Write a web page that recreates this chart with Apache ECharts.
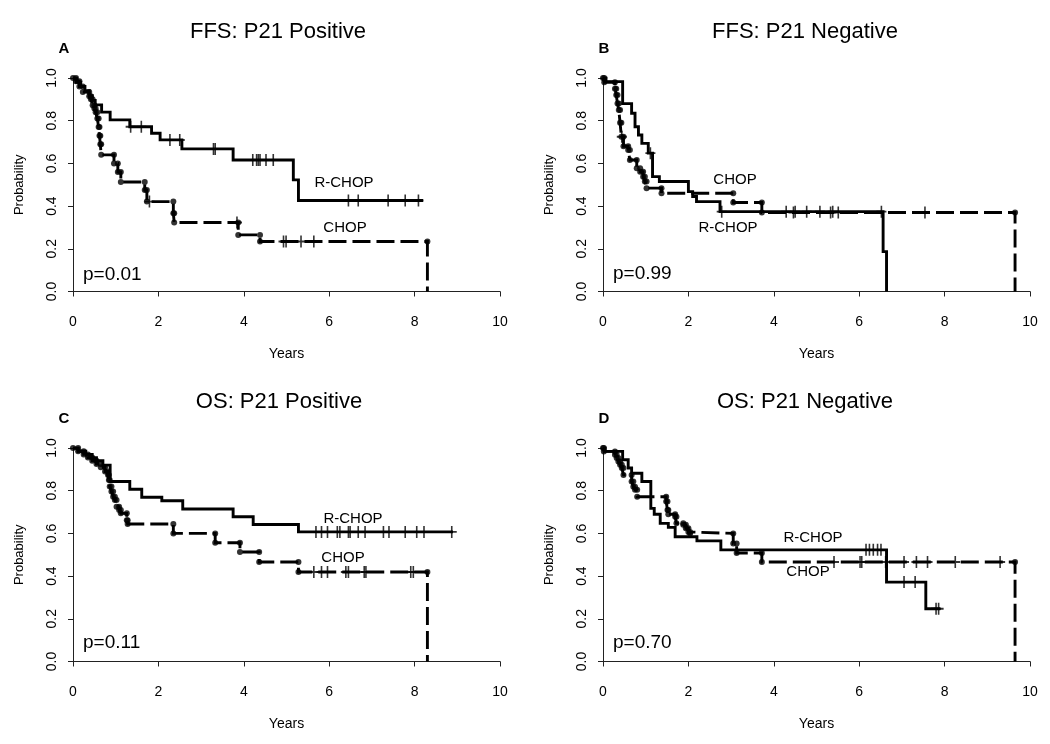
<!DOCTYPE html>
<html><head><meta charset="utf-8">
<script src="https://cdn.jsdelivr.net/npm/echarts@6/dist/echarts.min.js"></script>
<style>html,body{margin:0;padding:0;background:#fff}#c{width:1050px;height:744px}</style>
</head><body><div id="c"></div>
<script>
// ---------- tick labels ----------
const xTickValues = [0, 2, 4, 6, 8, 10];
const yTickValues = [0.0, 0.2, 0.4, 0.6, 0.8, 1.0];

// ---------- Panel A: FFS, P21 positive ----------
const aRchopT = [0, 0.08, 0.18, 0.28, 0.38, 0.45, 0.52, 0.67, 0.87, 1.33, 1.84, 2.04, 2.55, 3.75, 5.16, 5.28, 8.2];
const aRchopS = [1.0, 0.98, 0.96, 0.94, 0.917, 0.895, 0.874, 0.84, 0.804, 0.772, 0.741, 0.71, 0.668, 0.616, 0.523, 0.426, 0.426];
const aRchopCens = [1.35, 1.6, 2.27, 2.5, 3.29, 3.33, 4.21, 4.3, 4.34, 4.38, 4.52, 4.69, 6.45, 6.68, 7.38, 7.78, 8.09];
const aChopT = [0, 0.07, 0.15, 0.23, 0.38, 0.42, 0.46, 0.5, 0.53, 0.57, 0.6, 0.62, 0.64, 0.66, 0.96, 1.05, 1.12, 1.68, 1.73, 2.35, 2.37, 3.87, 4.38, 8.3];
const aChopS = [1.0, 0.985, 0.96, 0.934, 0.915, 0.9, 0.872, 0.857, 0.84, 0.81, 0.77, 0.73, 0.69, 0.64, 0.60, 0.56, 0.513, 0.475, 0.421, 0.367, 0.323, 0.265, 0.234, 0.0];
const aChopCens = [1.79, 3.84, 4.93, 4.99, 5.34, 5.64];

// ---------- Panel B: FFS, P21 negative ----------
const bRchopT = [0, 0.07, 0.46, 0.67, 0.75, 0.83, 0.91, 1.06, 1.16, 1.32, 2.0, 2.1, 2.19, 2.74, 6.56, 6.64];
const bRchopS = [1.0, 0.983, 0.88, 0.835, 0.772, 0.733, 0.694, 0.648, 0.538, 0.515, 0.468, 0.445, 0.421, 0.374, 0.187, 0.0];
const bRchopCens = [1.11, 2.78, 4.29, 4.5, 4.77, 5.08, 5.38, 6.52];
const bChopT = [0, 0.03, 0.28, 0.31, 0.34, 0.37, 0.4, 0.43, 0.48, 0.59, 0.63, 0.79, 0.87, 0.94, 0.98, 1.02, 1.37, 3.05, 3.72, 9.65];
const bChopS = [1.0, 0.98, 0.95, 0.92, 0.88, 0.85, 0.79, 0.725, 0.68, 0.663, 0.616, 0.577, 0.561, 0.538, 0.515, 0.484, 0.46, 0.417, 0.37, 0.0];
const bChopCens = [0.44, 4.46, 5.33, 5.51, 7.54];

// ---------- Panel C: OS, P21 positive ----------
const cRchopT = [0, 0.12, 0.3, 0.45, 0.55, 0.7, 0.87, 1.33, 1.61, 2.08, 2.57, 3.75, 4.22, 5.28, 8.9];
const cRchopS = [1.0, 0.985, 0.97, 0.955, 0.94, 0.92, 0.843, 0.807, 0.769, 0.753, 0.714, 0.678, 0.642, 0.607, 0.607];
const cRchopCens = [5.69, 5.82, 5.96, 6.19, 6.25, 6.45, 6.49, 6.68, 6.84, 7.27, 7.4, 7.78, 8.05, 8.22, 8.87];
const cChopT = [0, 0.12, 0.25, 0.35, 0.45, 0.55, 0.65, 0.75, 0.82, 0.84, 0.86, 0.9, 0.94, 0.98, 1.02, 1.08, 1.12, 1.26, 1.28, 2.35, 3.33, 3.91, 4.36, 5.28, 8.3];
const cChopS = [1.0, 0.985, 0.97, 0.955, 0.94, 0.925, 0.91, 0.89, 0.874, 0.85, 0.82, 0.796, 0.772, 0.757, 0.725, 0.71, 0.694, 0.662, 0.644, 0.6, 0.556, 0.513, 0.466, 0.419, 0.0];
const cChopCens = [5.64, 5.82, 5.96, 6.39, 6.45, 6.82, 6.86, 7.91, 7.97];

// ---------- Panel D: OS, P21 negative ----------
const dRchopT = [0, 0.05, 0.46, 0.59, 0.67, 0.91, 1.12, 1.2, 1.34, 1.53, 1.69, 2.2, 2.76, 6.64, 7.56, 7.9];
const dRchopS = [1.0, 0.984, 0.945, 0.906, 0.882, 0.843, 0.717, 0.69, 0.647, 0.628, 0.584, 0.565, 0.523, 0.372, 0.247, 0.247];
const dRchopCens = [6.16, 6.24, 6.33, 6.43, 6.51, 7.05, 7.31, 7.8, 7.86];
const dChopT = [0, 0.02, 0.28, 0.32, 0.36, 0.4, 0.44, 0.48, 0.67, 0.71, 0.75, 0.8, 1.48, 1.51, 1.53, 1.69, 1.72, 1.88, 1.94, 2.0, 2.04, 3.05, 3.13, 3.72, 9.65];
const dChopS = [1.0, 0.984, 0.968, 0.953, 0.937, 0.921, 0.906, 0.874, 0.843, 0.819, 0.804, 0.772, 0.749, 0.71, 0.69, 0.678, 0.647, 0.64, 0.624, 0.607, 0.6, 0.553, 0.508, 0.466, 0.0];
const dChopCens = [5.41, 6.02, 6.06, 6.62, 7.05, 7.34, 7.6, 8.25, 9.3];

// ---------- text ----------
const panelTitles = ['FFS: P21 Positive', 'FFS: P21 Negative', 'OS: P21 Positive', 'OS: P21 Negative'];
const panelLetters = ['A', 'B', 'C', 'D'];
const pValues = ['p=0.01', 'p=0.99', 'p=0.11', 'p=0.70'];
const seriesNames = ['R-CHOP', 'CHOP'];

const FONT = '"Liberation Sans", Arial, Helvetica, sans-serif';
const panels = [
  {left: 73, top: 78, r: [aRchopT, aRchopS, aRchopCens], c: [aChopT, aChopS, aChopCens],
   titleXY: [278, 32], letterXY: [64, 49], pXY: [83, 275], rLab: [344, 183], cLab: [345, 228]},
  {left: 603, top: 78, r: [bRchopT, bRchopS, bRchopCens], c: [bChopT, bChopS, bChopCens],
   titleXY: [805, 32], letterXY: [604, 49], pXY: [613, 274], rLab: [728, 228], cLab: [735, 180]},
  {left: 73, top: 448, r: [cRchopT, cRchopS, cRchopCens], c: [cChopT, cChopS, cChopCens],
   titleXY: [279, 402], letterXY: [64, 419], pXY: [83, 643], rLab: [353, 519], cLab: [343, 558]},
  {left: 603, top: 448, r: [dRchopT, dRchopS, dRchopCens], c: [dChopT, dChopS, dChopCens],
   titleXY: [805, 402], letterXY: [604, 419], pXY: [613, 643], rLab: [813, 538], cLab: [808, 572]}
];
const PW = 427, PH = 213.5;

function survAt(T, S, t) {
  let v = S[0];
  for (let i = 0; i < T.length; i++) if (T[i] <= t) v = S[i];
  return v;
}
function corners(T, S) {
  const pts = [[T[0], S[0]]];
  for (let i = 1; i < T.length; i++) {
    if (S[i] !== S[i - 1]) {
      pts.push([T[i], S[i - 1]]);
      if (S[i] > 0) pts.push([T[i], S[i]]);
    }
  }
  return pts;
}
const PLUS = 'path://M4.2,0h1.6v4.2h4.2v1.6h-4.2v4.2h-1.6v-4.2h-4.2v-1.6h4.2z';

const grid = [], xAxis = [], yAxis = [], series = [], graphic = [];
panels.forEach((p, k) => {
  grid.push({left: p.left, top: p.top, width: PW, height: PH, containLabel: false});
  xAxis.push({
    type: 'value', gridIndex: k, min: 0, max: 10, interval: 2, offset: 10,
    name: 'Years', nameLocation: 'middle', nameGap: 46,
    nameTextStyle: {fontFamily: FONT, fontSize: 14, color: '#000'},
    axisLine: {show: true, lineStyle: {color: '#222', width: 1}},
    axisTick: {show: true, inside: false, length: 5, lineStyle: {color: '#222'}},
    axisLabel: {fontFamily: FONT, fontSize: 14, color: '#000', margin: 14,
      formatter: v => xTickValues.includes(v) ? String(v) : ''},
    splitLine: {show: false}
  });
  yAxis.push({
    type: 'value', gridIndex: k, min: 0, max: 1, interval: 0.2,
    name: 'Probability', nameLocation: 'middle', nameGap: 47, nameRotate: 90,
    nameTextStyle: {fontFamily: FONT, fontSize: 13, color: '#000'},
    axisLine: {show: true, lineStyle: {color: '#222', width: 1}},
    axisTick: {show: true, inside: false, length: 5, lineStyle: {color: '#222'}},
    axisLabel: {fontFamily: FONT, fontSize: 14, color: '#000', rotate: 90, margin: 14,
      formatter: v => yTickValues.some(t => Math.abs(t - v) < 1e-9) ? v.toFixed(1) : ''},
    splitLine: {show: false}
  });
  const [rT, rS, rC] = p.r, [cT, cS, cC] = p.c;
  series.push({
    name: seriesNames[0], type: 'line', step: 'end', xAxisIndex: k, yAxisIndex: k,
    data: rT.map((t, i) => [t, rS[i]]), showSymbol: false, silent: true,
    lineStyle: {color: '#000', width: 2.9, join: 'miter'}, z: 3
  });
  series.push({
    name: seriesNames[1], type: 'line', step: 'end', xAxisIndex: k, yAxisIndex: k,
    data: cT.map((t, i) => [t, cS[i]]), showSymbol: false, silent: true,
    lineStyle: {color: '#000', width: 2.9, type: [18, 6], join: 'miter'}, z: 3
  });
  series.push({
    type: 'scatter', xAxisIndex: k, yAxisIndex: k, symbol: 'circle', symbolSize: 6,
    data: corners(cT, cS), itemStyle: {color: '#000'}, silent: true, z: 4
  });
  series.push({
    type: 'scatter', xAxisIndex: k, yAxisIndex: k, symbol: PLUS, symbolSize: [10, 12],
    data: rC.map(t => [t, survAt(rT, rS, t)]), itemStyle: {color: '#000'}, silent: true, z: 4
  });
  series.push({
    type: 'scatter', xAxisIndex: k, yAxisIndex: k, symbol: PLUS, symbolSize: [10, 12],
    data: cC.map(t => [t, survAt(cT, cS, t)]), itemStyle: {color: '#000'}, silent: true, z: 4
  });
  const txt = (xy, text, font, align) => ({
    type: 'text', x: xy[0], y: xy[1], silent: true,
    style: {text, font, fill: '#000', align: align || 'center', verticalAlign: 'middle'}
  });
  graphic.push(txt(p.titleXY, panelTitles[k], '22px ' + FONT));
  graphic.push(txt(p.letterXY, panelLetters[k], 'bold 15px ' + FONT));
  graphic.push(txt(p.pXY, pValues[k], '19px ' + FONT, 'left'));
  graphic.push(txt(p.rLab, seriesNames[0], '15px ' + FONT));
  graphic.push(txt(p.cLab, seriesNames[1], '15px ' + FONT));
});

const chart = echarts.init(document.getElementById('c'), null, {renderer: 'canvas'});
chart.setOption({
  animation: false, backgroundColor: '#fff',
  grid, xAxis, yAxis, series, graphic
});
</script></body></html>
